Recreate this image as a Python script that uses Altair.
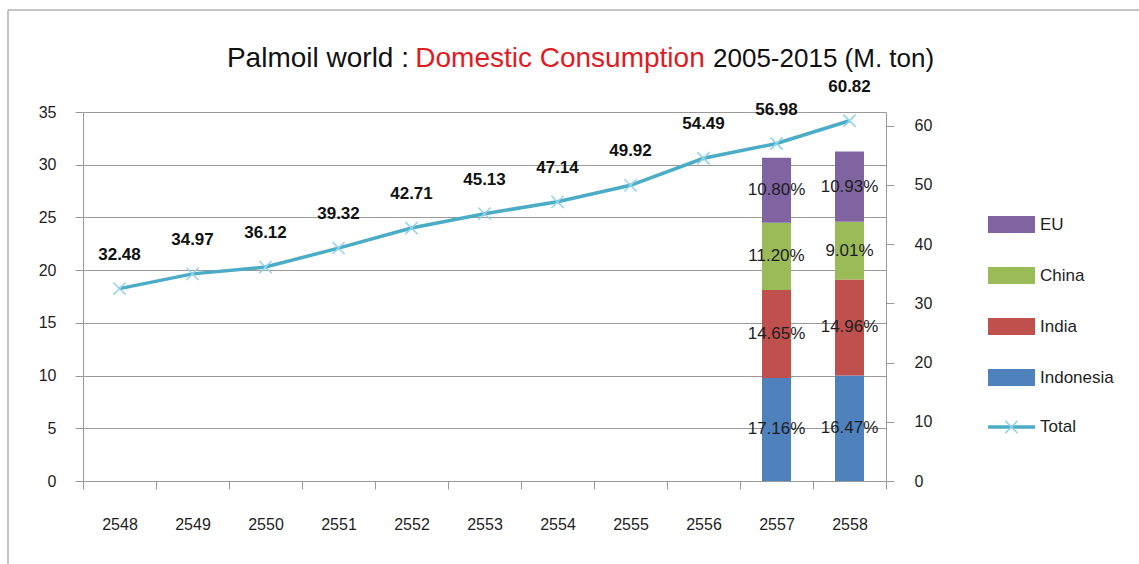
import altair as alt
import pandas as pd

# ---- data -------------------------------------------------------------
years = ["2548", "2549", "2550", "2551", "2552", "2553",
         "2554", "2555", "2556", "2557", "2558"]
total = [32.48, 34.97, 36.12, 39.32, 42.71, 45.13,
         47.14, 49.92, 54.49, 56.98, 60.82]

share_years = ["2557", "2558"]
countries = ["Indonesia", "India", "China", "EU"]          # stacked bottom -> top
share_indonesia = [17.16, 16.47]
share_india = [14.65, 14.96]
share_china = [11.20, 9.01]
share_eu = [10.80, 10.93]

country_colors = ["#4F81BD", "#C0504D", "#9BBB59", "#8064A2"]
line_color = "#4BACC6"
marker_color = "#8fd3ea"
grid_gray = "#9a9a9a"
text_dark = "#1e1e1e"
FONT = "Liberation Sans"

# ---- tables -----------------------------------------------------------
df_total = pd.DataFrame({"year": years, "total": total})

total_by_year = dict(zip(years, total))
shares = [share_indonesia, share_india, share_china, share_eu]
rows = []
for rank, (country, vals) in enumerate(zip(countries, shares)):
    for yr, pct in zip(share_years, vals):
        rows.append({"year": yr, "country": country, "rank": rank,
                     "pct": pct, "tons": pct / 100.0 * total_by_year[yr]})
df_share = pd.DataFrame(rows)

# ---- geometry of the plot area (pixels) -------------------------------
W, H = 803, 369
PAD = {"left": 83, "top": 112, "right": 1139 - 83 - W, "bottom": 564 - 112 - H}

x_scale = alt.Scale(domain=years, paddingInner=0, paddingOuter=0)
left_scale = alt.Scale(domain=[0, 35], nice=False, zero=True)
right_scale = alt.Scale(domain=[0, 62.3], nice=False, zero=True)

x_axis = alt.Axis(orient="bottom", tickBand="extent", tickSize=8, labelPadding=27,
                  labelAngle=0, domainColor=grid_gray, tickColor=grid_gray,
                  labelFontSize=16, labelFont=FONT, labelColor=text_dark,
                  grid=False, title=None)
left_axis = alt.Axis(orient="left", values=list(range(0, 36, 5)), tickSize=8,
                     tickColor=grid_gray, domainColor=grid_gray, grid=True,
                     gridColor=grid_gray, labelFontSize=16, labelFont=FONT,
                     labelColor=text_dark, labelPadding=19, title=None)
right_axis = alt.Axis(orient="right", values=list(range(0, 61, 10)), tickSize=8,
                      tickColor=grid_gray, domainColor=grid_gray, grid=False,
                      labelFontSize=16, labelFont=FONT, labelColor=text_dark,
                      labelPadding=20, title=None)

X = alt.X("year:N", scale=x_scale, axis=x_axis)

# ---- stacked share bars (left axis) -----------------------------------
stacked = alt.Chart(df_share).transform_stack(
    stack="tons", groupby=["year"], as_=["y0", "y1"],
    sort=[alt.SortField("rank", order="ascending")]
).transform_calculate(
    ymid="(datum.y0 + datum.y1) / 2",
    label="format(datum.pct, '.2f') + '%'"
)

bars = stacked.mark_bar(size=29).encode(
    x=X,
    y=alt.Y("y0:Q", scale=left_scale, axis=left_axis),
    y2="y1:Q",
    color=alt.Color("country:N", scale=alt.Scale(domain=countries, range=country_colors),
                    legend=None),
)
pct_text = stacked.mark_text(fontSize=17, font=FONT, color=text_dark).encode(
    x=X,
    y=alt.Y("ymid:Q", scale=left_scale, axis=left_axis),
    text="label:N",
)
left_layer = alt.layer(bars, pct_text)

# ---- total line (right axis) ------------------------------------------
Y_tot = alt.Y("total:Q", scale=right_scale, axis=right_axis)
base_total = alt.Chart(df_total).encode(x=X, y=Y_tot)
line = base_total.mark_line(color=line_color, strokeWidth=3.5)
points = base_total.mark_point(shape="M-1,-1L1,1M1,-1L-1,1", size=150, filled=False,
                               color=marker_color, strokeWidth=1.5, opacity=1)
total_labels = base_total.mark_text(dy=-34, fontSize=17, fontWeight="bold", font=FONT,
                                    color="#111111").encode(
    text=alt.Text("total:Q", format=".2f"),
)
right_layer = alt.layer(line, points, total_labels)

# ---- decorations: frame, two-colour title, legend ---------------------
one = pd.DataFrame({"k": [0]})

frame = alt.Chart(one).mark_rect(fill=None, stroke="#8c8c8c", strokeWidth=1).encode(
    x=alt.value(8 - PAD["left"]), x2=alt.value(1139 - PAD["left"] + 6),
    y=alt.value(10 - PAD["top"]), y2=alt.value(564 - PAD["top"] + 6),
)

title_y = 67 - PAD["top"]
title_parts = [
    ("Palmoil world :", "right", 409 - PAD["left"], "#111111", 28),
    ("Domestic Consumption", "center", 560 - PAD["left"], "#e01b24", 28),
    ("2005-2015 (M. ton)", "left", 713 - PAD["left"], "#111111", 26),
]
title_layers = [
    alt.Chart(one).mark_text(text=txt, align=al, baseline="alphabetic", fontSize=fs,
                             font=FONT, color=col).encode(
        x=alt.value(xp), y=alt.value(title_y))
    for txt, al, xp, col, fs in title_parts
]

legend_layers = []
sw_x0, sw_x1 = 988 - PAD["left"], 1035 - PAD["left"]
legend_text_x = 1040 - PAD["left"]
legend_rows = list(zip(countries[::-1], country_colors[::-1]))
for i, (name, col) in enumerate(legend_rows):
    cy = 224.5 + i * 51 - PAD["top"]
    legend_layers.append(
        alt.Chart(one).mark_rect(color=col).encode(
            x=alt.value(sw_x0), x2=alt.value(sw_x1),
            y=alt.value(cy - 8.5), y2=alt.value(cy + 8.5)))
    legend_layers.append(
        alt.Chart(one).mark_text(text=name, align="left", baseline="middle", fontSize=17,
                                 font=FONT, color=text_dark).encode(
            x=alt.value(legend_text_x), y=alt.value(cy)))

cy_tot = 427 - PAD["top"]
legend_layers.append(
    alt.Chart(one).mark_rule(color=line_color, strokeWidth=3.5).encode(
        x=alt.value(sw_x0), x2=alt.value(sw_x1), y=alt.value(cy_tot)))
legend_layers.append(
    alt.Chart(one).mark_point(shape="M-1,-1L1,1M1,-1L-1,1", size=150, filled=False,
                              color=marker_color, strokeWidth=1.5, opacity=1).encode(
        x=alt.value((sw_x0 + sw_x1) / 2), y=alt.value(cy_tot)))
legend_layers.append(
    alt.Chart(one).mark_text(text="Total", align="left", baseline="middle", fontSize=17,
                             font=FONT, color=text_dark).encode(
        x=alt.value(legend_text_x), y=alt.value(cy_tot)))

chart = alt.layer(
    left_layer, right_layer, frame, *title_layers, *legend_layers
).resolve_scale(
    y="independent"
).properties(
    width=W, height=H,
    padding=PAD,
    autosize=alt.AutoSizeParams(type="none"),
).configure(
    background="white",
).configure_view(
    stroke=None,
)

chart.save("out.html", embed_options={"renderer": "svg", "actions": False})
